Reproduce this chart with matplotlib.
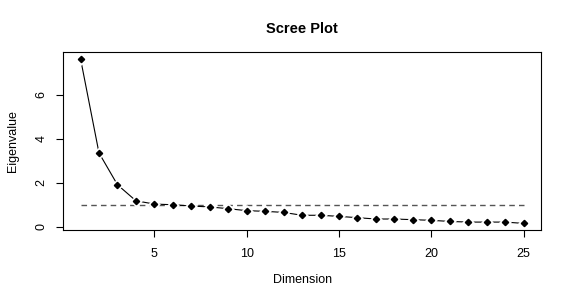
import matplotlib
matplotlib.use('Agg')
import matplotlib.pyplot as plt

plt.rcParams['font.family'] = ['Liberation Sans', 'DejaVu Sans']

dimension = list(range(1, 26))
eigenvalue = [7.65, 3.36, 1.91, 1.18, 1.03, 1.00, 0.94, 0.90, 0.82, 0.73,
              0.70, 0.65, 0.52, 0.52, 0.47, 0.41, 0.35, 0.35, 0.32, 0.29,
              0.24, 0.21, 0.21, 0.21, 0.15]
cutoff = 1
x_ticks = [5, 10, 15, 20, 25]
y_ticks = [0, 2, 4, 6]

fig = plt.figure(figsize=(5.74, 2.96), dpi=100)
ax = fig.add_axes([0.1094, 0.223, 0.8338, 0.601])

# reference line at eigenvalue 1
ax.plot([dimension[0], dimension[-1]], [cutoff, cutoff], color='#555555',
        lw=1.0, dashes=(4, 3))
# type="b": line with gaps around the points
ax.plot(dimension, eigenvalue, color='black', lw=0.8, marker='D', ms=3.4,
        markerfacecolor='black', markeredgecolor='white', markeredgewidth=3.0)
ax.plot(dimension, eigenvalue, ls='none', marker='D', ms=3.2, color='black')

ax.set_xlim(0.04, 25.96)
ax.set_ylim(-0.15, 7.95)
ax.set_xticks(x_ticks)
ax.set_yticks(y_ticks)
ax.tick_params(direction='out', length=5, width=0.8, labelsize=9, colors='black')
ax.tick_params(axis='x', pad=8)
ax.tick_params(axis='y', pad=6)
for lab in ax.get_yticklabels():
    lab.set_rotation(90)
    lab.set_va('center')
for s in ax.spines.values():
    s.set_linewidth(0.8)

ax.set_title('Scree Plot', fontsize=10.5, fontweight='bold', pad=14)
ax.set_xlabel('Dimension', fontsize=9, labelpad=10)
ax.set_ylabel('Eigenvalue', fontsize=9, labelpad=12)

fig.savefig('out.png', dpi=100, facecolor='white')
